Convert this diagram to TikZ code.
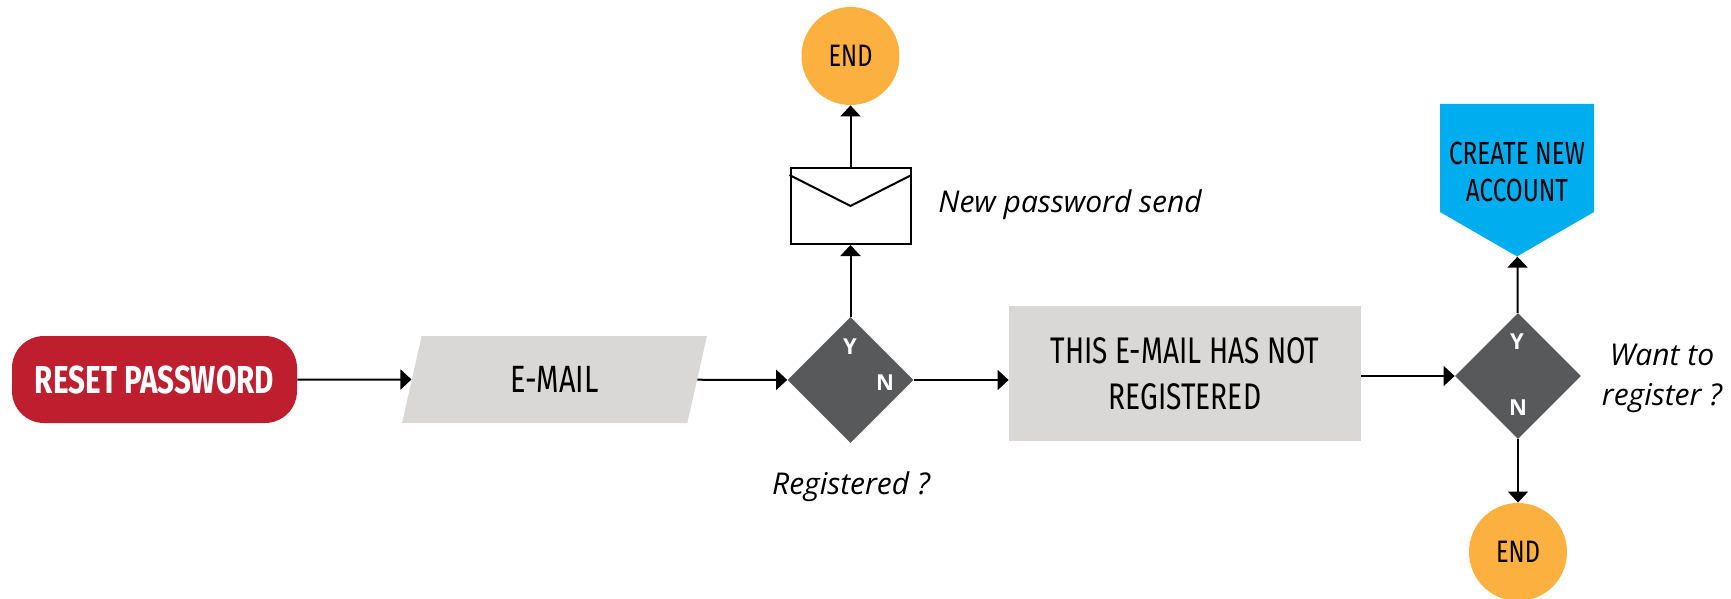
\documentclass[tikz,border=0pt]{standalone}
\usepackage{fontspec}
\usepackage{tikz}
\usetikzlibrary{shapes.geometric,shapes.symbols,arrows.meta}
\newfontfamily\condfont[FakeStretch=0.76]{Fira Sans}
\newfontfamily\labelfont{Open Sans}
\definecolor{resetred}{HTML}{BE1E2D}
\definecolor{boxgray}{HTML}{D9D8D6}
\definecolor{decgray}{HTML}{58595B}
\definecolor{endorange}{HTML}{FBB040}
\definecolor{newblue}{HTML}{00AEEF}
\tikzset{
	flow/.style={line width=1pt,-{Triangle[length=5.5pt,width=10pt]}},
	decision/.style={diamond,fill=decgray,minimum width=63pt,minimum height=63pt,inner sep=0pt},
	endcircle/.style={circle,fill=endorange,minimum size=49pt,inner sep=0pt,font=\condfont\fontsize{15.5pt}{18pt}\selectfont},
	yn/.style={text=white,font=\labelfont\bfseries\fontsize{11pt}{13pt}\selectfont},
	note/.style={font=\labelfont\itshape\fontsize{15pt}{20pt}\selectfont,align=center}
}

\begin{document}
\begin{tikzpicture}[x=0.5pt,y=-0.5pt]
	\useasboundingbox (0,0) rectangle (1731,599);
	\node[rectangle,rounded corners=16pt,fill=resetred,minimum width=142.5pt,minimum height=43.5pt,text=white,font=\condfont\bfseries\fontsize{19.5pt}{23pt}\selectfont] (reset) at (154.5,379.5) {RESET PASSWORD};
	\node[trapezium,trapezium left angle=76,trapezium right angle=104,trapezium stretches=true,fill=boxgray,minimum width=152.5pt,minimum height=43.5pt,inner sep=0pt,font=\condfont\fontsize{19pt}{23pt}\selectfont] (email) at (554.5,379.5) {E-MAIL};
	\node[decision] (reg) at (850.5,380) {};
	\node[yn] at (850,347) {Y};
	\node[yn] at (885,383) {N};
	\node[note] at (851,487) {Registered ?};
	\node[draw,line width=1pt,minimum width=60pt,minimum height=38pt,inner sep=0pt] (env) at (850.5,206) {};
	\draw[line width=1pt] ([yshift=-4pt]env.north west) -- (env.center) -- ([yshift=-4pt]env.north east);
	\node[note,anchor=west,inner sep=0pt] at (938,205) {New password send};
	\node[endcircle] (end1) at (850.5,56) {END};
	\node[fill=boxgray,minimum width=176pt,minimum height=67.5pt,align=center,font=\condfont\fontsize{18.5pt}{23pt}\selectfont] (msg) at (1185,373.5) {THIS E-MAIL HAS NOT\\REGISTERED};
	\node[decision] (want) at (1518,376) {};
	\node[yn] at (1517,342) {Y};
	\node[yn] at (1518,408) {N};
	\node[note] at (1662,378) {Want to\\register ?};
	\node[signal,signal to=south,signal pointer angle=120,fill=newblue,minimum width=77pt,minimum height=54pt,inner sep=0pt,
		label={[yshift=-6.75pt,align=center,font=\condfont\fontsize{16pt}{18.5pt}\selectfont]center:{CREATE NEW\\ACCOUNT}}] (create) at (1517,158) {};
	\node[endcircle] (end2) at (1518,552) {END};
	
	\draw[flow] (reset) -- (email);
	\draw[flow] (email) -- (reg);
	\draw[flow] (reg) -- (env);
	\draw[flow] (env) -- (end1);
	\draw[flow] (reg.east) -- (reg.east -| msg.west);
	\draw[flow] (msg.east |- want) -- (want);
	\draw[flow] (want) -- (create);
	\draw[flow] (want) -- (end2);
\end{tikzpicture}
\end{document}
